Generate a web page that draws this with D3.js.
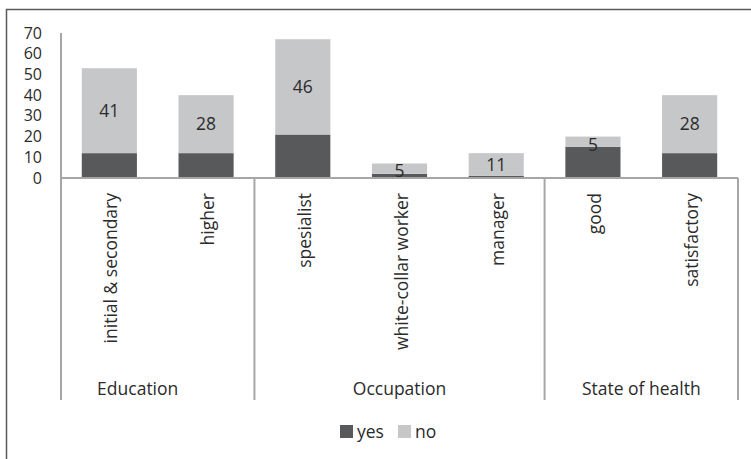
<!DOCTYPE html>
<meta charset="utf-8">
<html>
<head>
<script src="https://d3js.org/d3.v7.min.js"></script>
<style>
  body { margin: 0; background: #fff; }
  text { font-family: "Open Sans", sans-serif; fill: #2b2b2b; }
</style>
</head>
<body>
<div id="chart"></div>
<script>
    // data
    const categories = ["initial & secondary", "higher", "spesialist", "white-collar worker", "manager", "good", "satisfactory"];
    const groups = ["Education", "Occupation", "State of health"];
    const groupOf = ["Education", "Education", "Occupation", "Occupation", "Occupation", "State of health", "State of health"];
    const yes = [12, 12, 21, 2, 1, 15, 12];
    const no = [41, 28, 46, 5, 11, 5, 28];
    const yTicks = [0, 10, 20, 30, 40, 50, 60, 70];

    const W = 751, H = 459;
    const colYes = "#58595b", colNo = "#c6c7c9", axisCol = "#a6a6a6";
    const fs = "17.5px";

    const svg = d3.select("#chart").append("svg")
        .attr("width", W)
        .attr("height", H);

    // chart frame (right and bottom edges fall outside the picture)
    svg.append("rect")
        .attr("x", 6.5).attr("y", 9.5)
        .attr("width", 800).attr("height", 600)
        .attr("fill", "none")
        .attr("stroke", "#595959")
        .attr("stroke-width", 1.5);

    const x = d3.scaleBand()
        .domain(categories)
        .range([61, 738])
        .paddingInner(0.43)
        .paddingOuter(0.215);

    const y = d3.scaleLinear()
        .domain([0, 70])
        .range([178, 33]);

    // y axis labels
    svg.append("g")
        .attr("transform", "translate(61,0)")
        .call(d3.axisLeft(y).tickValues(yTicks).tickSize(0).tickPadding(19))
        .call(g => g.select(".domain").remove())
        .selectAll("text")
        .style("font-family", "Open Sans, sans-serif")
        .style("font-size", "16px")
        .attr("fill", "#2b2b2b");

    // bars
    const rows = categories.map((c, i) => ({ cat: c, yes: yes[i], no: no[i] }));
    const g = svg.append("g");
    g.selectAll(".yes").data(rows).enter().append("rect")
        .attr("x", d => x(d.cat))
        .attr("width", x.bandwidth())
        .attr("y", d => y(d.yes))
        .attr("height", d => y(0) - y(d.yes))
        .attr("fill", colYes);
    g.selectAll(".no").data(rows).enter().append("rect")
        .attr("x", d => x(d.cat))
        .attr("width", x.bandwidth())
        .attr("y", d => y(d.yes + d.no))
        .attr("height", d => y(d.yes) - y(d.yes + d.no))
        .attr("fill", colNo);

    // value labels on the "no" part
    g.selectAll(".lab").data(rows).enter().append("text")
        .attr("x", d => x(d.cat) + x.bandwidth() / 2)
        .attr("y", d => (y(d.yes) + y(d.yes + d.no)) / 2)
        .attr("dy", d => d.no < 8 ? "0.5em" : "0.35em")
        .attr("text-anchor", "middle")
        .style("font-size", fs)
        .text(d => d.no);

    // axis lines
    svg.append("line")
        .attr("x1", 61).attr("x2", 61)
        .attr("y1", y(70)).attr("y2", y(0))
        .attr("stroke", axisCol).attr("stroke-width", 2);
    svg.append("line")
        .attr("x1", 61).attr("x2", 738)
        .attr("y1", y(0)).attr("y2", y(0))
        .attr("stroke", axisCol).attr("stroke-width", 2);

    // group separators
    const gap = x.step() - x.bandwidth();
    const bounds = [];
    groups.forEach(gr => {
        const idx = groupOf.map((v, i) => v === gr ? i : -1).filter(i => i >= 0);
        const x0 = x(categories[idx[0]]) - gap / 2;
        const x1 = x(categories[idx[idx.length - 1]]) + x.bandwidth() + gap / 2;
        bounds.push({ name: gr, x0: x0, x1: x1 });
    });
    const sepX = [bounds[0].x0].concat(bounds.map(b => b.x1));
    svg.selectAll(".sep").data(sepX).enter().append("line")
        .attr("x1", d => d).attr("x2", d => d)
        .attr("y1", y(0)).attr("y2", 400)
        .attr("stroke", axisCol).attr("stroke-width", 2);

    // category labels (rotated)
    svg.selectAll(".cat").data(categories).enter().append("text")
        .attr("transform", d => `translate(${x(d) + x.bandwidth() / 2 + 2},193) rotate(-90)`)
        .attr("text-anchor", "end")
        .attr("dy", "0.35em")
        .style("font-size", fs)
        .text(d => d);

    // group labels
    svg.selectAll(".grp").data(bounds).enter().append("text")
        .attr("x", (d, i) => (d.x0 + d.x1) / 2 - (i === 0 ? 20 : 0))
        .attr("y", 389)
        .attr("dy", "0.35em")
        .attr("text-anchor", "middle")
        .style("font-size", fs)
        .text(d => d.name);

    // legend
    const legend = [{ k: "yes", c: colYes, x: 340 }, { k: "no", c: colNo, x: 398 }];
    const lg = svg.selectAll(".leg").data(legend).enter().append("g")
        .attr("transform", d => `translate(${d.x},425)`);
    lg.append("rect").attr("width", 13).attr("height", 13).attr("fill", d => d.c);
    lg.append("text").attr("x", 17).attr("y", 6.5).attr("dy", "0.35em")
        .style("font-size", fs)
        .text(d => d.k);
</script>
</body>
</html>
